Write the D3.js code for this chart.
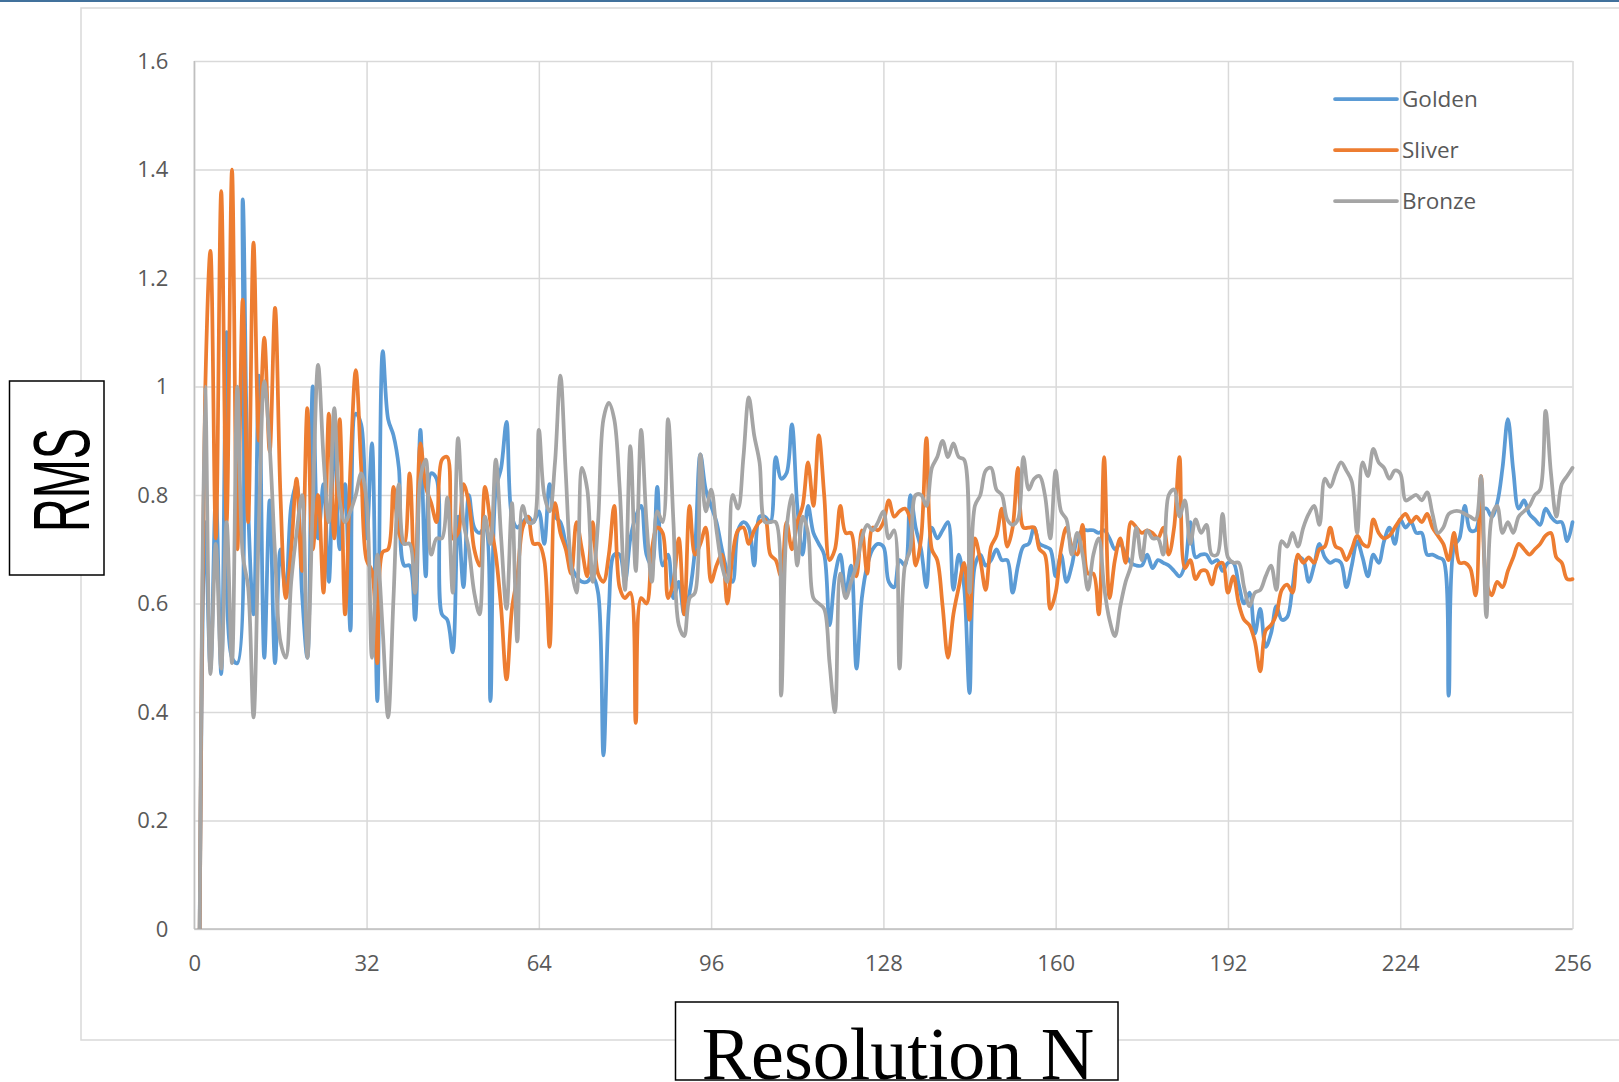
<!DOCTYPE html>
<html>
<head>
<meta charset="utf-8">
<script src="https://cdn.jsdelivr.net/npm/d3@7"></script>
<style>
  html, body { margin: 0; padding: 0; background: #ffffff; }
  svg { display: block; }
</style>
</head>
<body>
<svg id="chart" width="1619" height="1082"></svg>
<script>
// RMS error against resolution N for the three metallic-ratio sequences (N = 1 … 256)
const firstN = 1;

const golden = [
  0, 0.75, 0.48, 0.80, 0.47, 1.10, 0.50, 0.49, 1.345, 0.78,
  0.58, 1.02, 0.50, 0.79, 0.49, 0.70, 0.62, 0.78, 0.82, 0.62,
  0.50, 1.00, 0.72, 0.82, 0.64, 0.92, 0.70, 0.82, 0.55, 0.95,
  0.93, 0.72, 0.895, 0.42, 1.065, 0.94, 0.91, 0.85, 0.67, 0.67,
  0.57, 0.92, 0.65, 0.84, 0.83, 0.58, 0.57, 0.51, 0.76, 0.63,
  0.80, 0.74, 0.73, 0.74, 0.42, 0.81, 0.85, 0.935, 0.76, 0.74,
  0.75, 0.76, 0.75, 0.77, 0.71, 0.82, 0.76, 0.75, 0.71, 0.67,
  0.65, 0.64, 0.64, 0.65, 0.62, 0.32, 0.59, 0.69, 0.69, 0.64,
  0.72, 0.76, 0.78, 0.69, 0.67, 0.815, 0.67, 0.69, 0.61, 0.64,
  0.58, 0.62, 0.70, 0.875, 0.81, 0.78, 0.75, 0.70, 0.66, 0.64,
  0.735, 0.75, 0.74, 0.67, 0.76, 0.76, 0.75, 0.87, 0.83, 0.84,
  0.93, 0.78, 0.69, 0.78, 0.73, 0.71, 0.69, 0.56, 0.65, 0.69,
  0.62, 0.67, 0.48, 0.61, 0.67, 0.70, 0.71, 0.705, 0.64, 0.63,
  0.68, 0.67, 0.80, 0.74, 0.70, 0.63, 0.74, 0.72, 0.735, 0.75,
  0.625, 0.69, 0.63, 0.435, 0.67, 0.69, 0.67, 0.68, 0.70, 0.68,
  0.68, 0.62, 0.67, 0.705, 0.71, 0.74, 0.71, 0.705, 0.70, 0.65,
  0.69, 0.64, 0.67, 0.72, 0.735, 0.735, 0.735, 0.73, 0.735, 0.72,
  0.70, 0.71, 0.69, 0.675, 0.67, 0.67, 0.69, 0.665, 0.68, 0.675,
  0.67, 0.66, 0.65, 0.67, 0.75, 0.685, 0.69, 0.69, 0.675, 0.68,
  0.66, 0.675, 0.675, 0.635, 0.60, 0.62, 0.545, 0.59, 0.52, 0.545,
  0.595, 0.57, 0.575, 0.63, 0.685, 0.68, 0.64, 0.67, 0.71, 0.685,
  0.675, 0.68, 0.675, 0.63, 0.67, 0.715, 0.685, 0.65, 0.69, 0.675,
  0.715, 0.74, 0.71, 0.755, 0.74, 0.75, 0.73, 0.73, 0.69, 0.69,
  0.685, 0.68, 0.43, 0.705, 0.72, 0.78, 0.735, 0.735, 0.77, 0.775,
  0.76, 0.785, 0.85, 0.94, 0.845, 0.775, 0.79, 0.765, 0.755, 0.745,
  0.775, 0.76, 0.75, 0.75, 0.715, 0.75
];

const sliver = [
  0, 0.98, 1.25, 0.72, 1.36, 0.75, 1.40, 0.70, 1.16, 0.75,
  1.265, 0.90, 1.09, 0.88, 1.145, 0.80, 0.61, 0.70, 0.83, 0.66,
  0.96, 0.70, 0.80, 0.62, 0.95, 0.72, 0.94, 0.58, 0.85, 1.03,
  0.85, 0.68, 0.66, 0.49, 0.695, 0.70, 0.815, 0.73, 0.71, 0.84,
  0.62, 0.895, 0.815, 0.785, 0.75, 0.865, 0.87, 0.72, 0.73, 0.82,
  0.785, 0.70, 0.67, 0.815, 0.75, 0.69, 0.59, 0.46, 0.59, 0.65,
  0.74, 0.76, 0.71, 0.71, 0.68, 0.52, 0.785, 0.73, 0.70, 0.655,
  0.75, 0.70, 0.65, 0.75, 0.655, 0.64, 0.69, 0.78, 0.63, 0.61,
  0.62, 0.38, 0.61, 0.60, 0.70, 0.74, 0.73, 0.61, 0.64, 0.72,
  0.58, 0.78, 0.69, 0.71, 0.74, 0.64, 0.67, 0.69, 0.60, 0.69,
  0.735, 0.74, 0.71, 0.735, 0.75, 0.755, 0.69, 0.68, 0.65, 0.75,
  0.70, 0.75, 0.78, 0.86, 0.78, 0.91, 0.80, 0.68, 0.70, 0.78,
  0.73, 0.73, 0.65, 0.735, 0.655, 0.74, 0.735, 0.75, 0.79, 0.76,
  0.77, 0.775, 0.755, 0.67, 0.72, 0.905, 0.70, 0.68, 0.595, 0.50,
  0.58, 0.63, 0.675, 0.57, 0.72, 0.68, 0.625, 0.705, 0.725, 0.775,
  0.705, 0.74, 0.85, 0.74, 0.74, 0.74, 0.70, 0.69, 0.59, 0.62,
  0.70, 0.74, 0.705, 0.69, 0.745, 0.655, 0.655, 0.58, 0.87, 0.61,
  0.68, 0.72, 0.675, 0.75, 0.74, 0.73, 0.735, 0.73, 0.72, 0.74,
  0.69, 0.74, 0.87, 0.665, 0.68, 0.645, 0.66, 0.66, 0.635, 0.67,
  0.675, 0.62, 0.65, 0.60, 0.57, 0.56, 0.53, 0.475, 0.55, 0.56,
  0.58, 0.625, 0.635, 0.62, 0.69, 0.675, 0.685, 0.675, 0.70, 0.705,
  0.74, 0.705, 0.70, 0.68, 0.70, 0.725, 0.71, 0.705, 0.755, 0.73,
  0.72, 0.725, 0.74, 0.755, 0.765, 0.75, 0.76, 0.75, 0.765, 0.74,
  0.725, 0.71, 0.68, 0.73, 0.675, 0.675, 0.665, 0.615, 0.835, 0.64,
  0.615, 0.64, 0.63, 0.66, 0.685, 0.71, 0.70, 0.69, 0.70, 0.71,
  0.725, 0.73, 0.685, 0.675, 0.645, 0.645
];

const bronze = [
  0, 1.0, 0.47, 0.71, 0.48, 0.75, 0.49, 1.0, 0.69, 0.63,
  0.39, 0.75, 1.01, 0.89, 0.69, 0.53, 0.50, 0.64, 0.73, 0.80,
  0.50, 0.78, 1.04, 0.87, 0.75, 0.96, 0.79, 0.75, 0.77, 0.80,
  0.84, 0.79, 0.50, 0.69, 0.55, 0.39, 0.61, 0.82, 0.71, 0.71,
  0.62, 0.83, 0.865, 0.69, 0.72, 0.72, 0.795, 0.62, 0.905, 0.75,
  0.70, 0.62, 0.58, 0.76, 0.71, 0.865, 0.72, 0.59, 0.785, 0.53,
  0.78, 0.75, 0.75, 0.92, 0.80, 0.77, 0.86, 1.02, 0.84, 0.67,
  0.62, 0.85, 0.81, 0.64, 0.75, 0.94, 0.97, 0.94, 0.815, 0.625,
  0.89, 0.66, 0.92, 0.75, 0.64, 0.77, 0.75, 0.94, 0.75, 0.56,
  0.54, 0.61, 0.62, 0.875, 0.77, 0.81, 0.735, 0.67, 0.64, 0.80,
  0.775, 0.87, 0.98, 0.91, 0.86, 0.75, 0.75, 0.75, 0.43, 0.735,
  0.80, 0.67, 0.76, 0.73, 0.61, 0.60, 0.59, 0.49, 0.40, 0.655,
  0.61, 0.64, 0.67, 0.72, 0.745, 0.735, 0.75, 0.77, 0.72, 0.735,
  0.48, 0.67, 0.70, 0.80, 0.80, 0.78, 0.85, 0.87, 0.90, 0.87,
  0.895, 0.87, 0.865, 0.62, 0.78, 0.80, 0.845, 0.85, 0.81, 0.80,
  0.755, 0.745, 0.755, 0.87, 0.81, 0.83, 0.835, 0.80, 0.72, 0.845,
  0.77, 0.755, 0.69, 0.73, 0.69, 0.625, 0.69, 0.72, 0.63, 0.57,
  0.54, 0.595, 0.64, 0.67, 0.74, 0.68, 0.735, 0.72, 0.72, 0.69,
  0.80, 0.81, 0.76, 0.79, 0.71, 0.755, 0.73, 0.745, 0.69, 0.69,
  0.765, 0.685, 0.675, 0.675, 0.63, 0.595, 0.62, 0.625, 0.65, 0.67,
  0.625, 0.715, 0.705, 0.73, 0.705, 0.74, 0.765, 0.78, 0.745, 0.83,
  0.815, 0.84, 0.86, 0.845, 0.825, 0.73, 0.86, 0.835, 0.885, 0.86,
  0.85, 0.83, 0.845, 0.84, 0.79, 0.795, 0.80, 0.79, 0.805, 0.765,
  0.73, 0.74, 0.765, 0.77, 0.77, 0.765, 0.76, 0.755, 0.835, 0.575,
  0.76, 0.78, 0.73, 0.75, 0.73, 0.76, 0.77, 0.78, 0.80, 0.81,
  0.955, 0.84, 0.76, 0.82, 0.835, 0.85
];

const seriesNames = ["Golden", "Sliver", "Bronze"];
const seriesColors = ["#5b9bd5", "#ed7d31", "#a5a5a5"];
const xTicks = [0, 32, 64, 96, 128, 160, 192, 224, 256];
const yTicks = [0, 0.2, 0.4, 0.6, 0.8, 1.0, 1.2, 1.4, 1.6];
const yTickLabels = ["0", "0.2", "0.4", "0.6", "0.8", "1", "1.2", "1.4", "1.6"];

const svg = d3.select("#chart");
const W = 1619, H = 1082;
const plot = { left: 194.3, right: 1572.5, top: 61, bottom: 929 };
const labelFont = "'Open Sans', 'Noto Sans', sans-serif";
const textGrey = "#595959";
const gridGrey = "#d9d9d9";

// Window frame: thin accent line at the very top, then the chart-area border
svg.append("rect").attr("x", 0).attr("y", 0).attr("width", W).attr("height", 2).attr("fill", "#41719c");
svg.append("rect")
  .attr("x", 81).attr("y", 8).attr("width", W).attr("height", 1032)
  .attr("fill", "#ffffff").attr("stroke", gridGrey).attr("stroke-width", 1.5);

const x = d3.scaleLinear().domain([0, 256]).range([plot.left, plot.right]);
const y = d3.scaleLinear().domain([0, 1.6]).range([plot.bottom, plot.top]);

// Horizontal gridlines + value labels
const yAxis = svg.append("g")
  .attr("transform", `translate(${plot.left},0)`)
  .call(d3.axisLeft(y).tickValues(yTicks)
    .tickSize(-(plot.right - plot.left)).tickPadding(26)
    .tickFormat((d, i) => yTickLabels[i]));
yAxis.select(".domain").remove();
yAxis.selectAll(".tick line").attr("stroke", gridGrey).attr("stroke-width", 1.5);
yAxis.selectAll(".tick text")
  .attr("fill", textGrey).style("font-family", labelFont).style("font-size", "22px");

// Vertical gridlines + resolution labels
const xAxis = svg.append("g")
  .attr("transform", `translate(0,${plot.bottom})`)
  .call(d3.axisBottom(x).tickValues(xTicks)
    .tickSize(-(plot.bottom - plot.top)).tickPadding(26)
    .tickFormat(d3.format("d")));
xAxis.select(".domain").remove();
xAxis.selectAll(".tick line").attr("stroke", gridGrey).attr("stroke-width", 1.5);
xAxis.selectAll(".tick text")
  .attr("fill", textGrey).style("font-family", labelFont).style("font-size", "22px");

// Axis lines
svg.append("line")
  .attr("x1", plot.left).attr("x2", plot.left).attr("y1", plot.top).attr("y2", plot.bottom)
  .attr("stroke", "#bfbfbf").attr("stroke-width", 1.5);
svg.append("line")
  .attr("x1", plot.left).attr("x2", plot.right).attr("y1", plot.bottom).attr("y2", plot.bottom)
  .attr("stroke", "#bfbfbf").attr("stroke-width", 1.5);

// Series lines (smoothed), clipped to the plot box
svg.append("clipPath").attr("id", "plotClip")
  .append("rect")
  .attr("x", plot.left).attr("y", plot.top - 4)
  .attr("width", plot.right - plot.left + 4).attr("height", plot.bottom - plot.top + 4);

const line = d3.line()
  .x((d, i) => x(firstN + i))
  .y(d => y(d))
  .curve(d3.curveCatmullRom.alpha(0.5));

const seriesData = [golden, sliver, bronze];
const lines = svg.append("g").attr("clip-path", "url(#plotClip)");
seriesData.forEach((vals, k) => {
  lines.append("path")
    .datum(vals)
    .attr("d", line)
    .attr("fill", "none")
    .attr("stroke", seriesColors[k])
    .attr("stroke-width", 3.75)
    .attr("stroke-linejoin", "round")
    .attr("stroke-linecap", "round");
});

// Legend
const legendY = [99, 150, 201];
const legend = svg.append("g");
seriesNames.forEach((name, k) => {
  legend.append("line")
    .attr("x1", 1335).attr("x2", 1397).attr("y1", legendY[k]).attr("y2", legendY[k])
    .attr("stroke", seriesColors[k]).attr("stroke-width", 3.75).attr("stroke-linecap", "round");
  legend.append("text")
    .attr("x", 1402).attr("y", legendY[k]).attr("dy", "0.35em")
    .attr("fill", textGrey).style("font-family", labelFont).style("font-size", "22.5px")
    .text(name);
});

// Y-axis title box
svg.append("rect")
  .attr("x", 9.5).attr("y", 381).attr("width", 94.5).attr("height", 194)
  .attr("fill", "#ffffff").attr("stroke", "#000000").attr("stroke-width", 1.5);
svg.append("text")
  .attr("transform", "translate(89,480) rotate(-90)")
  .attr("text-anchor", "middle")
  .attr("textLength", 104).attr("lengthAdjust", "spacingAndGlyphs")
  .style("font-family", "'Liberation Sans Narrow', 'Liberation Sans', Arial, sans-serif")
  .style("font-size", "79px")
  .attr("fill", "#000000")
  .text("RMS");

// X-axis title box
svg.append("rect")
  .attr("x", 675.5).attr("y", 1002).attr("width", 442.5).attr("height", 78)
  .attr("fill", "#ffffff").attr("stroke", "#000000").attr("stroke-width", 1.5);
svg.append("text")
  .attr("x", 898).attr("y", 1079)
  .attr("text-anchor", "middle")
  .style("font-family", "'Liberation Serif', 'Times New Roman', serif")
  .style("font-size", "74px")
  .attr("fill", "#000000")
  .text("Resolution N");
</script>
</body>
</html>
